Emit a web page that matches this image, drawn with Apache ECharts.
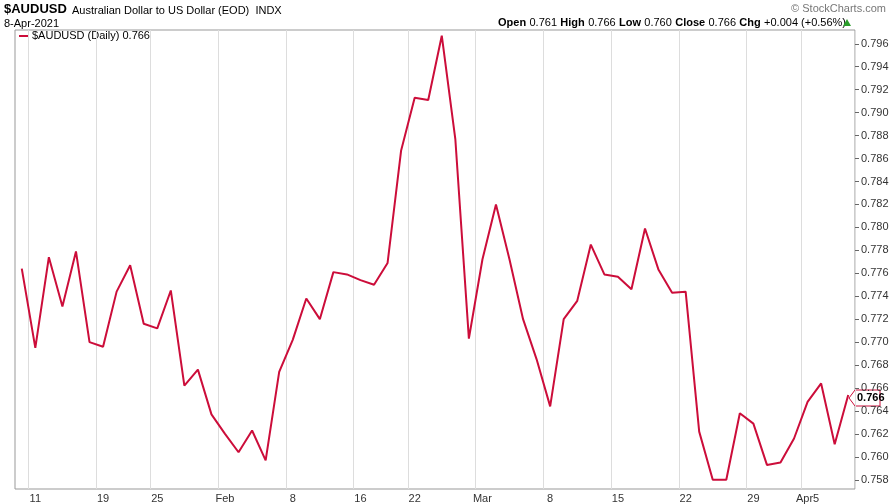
<!DOCTYPE html>
<html><head><meta charset="utf-8">
<script src="https://cdn.jsdelivr.net/npm/echarts@6/dist/echarts.min.js"></script>
<style>body{margin:0;background:#fff}#c{width:896px;height:504px}</style>
</head><body><div id="c"></div>
<script>
const dates = ["Jan 8","Jan 11","Jan 12","Jan 13","Jan 14","Jan 15","Jan 19","Jan 20","Jan 21","Jan 22","Jan 25","Jan 26","Jan 27","Jan 28","Jan 29","Feb 1","Feb 2","Feb 3","Feb 4","Feb 5","Feb 8","Feb 9","Feb 10","Feb 11","Feb 12","Feb 16","Feb 17","Feb 18","Feb 19","Feb 22","Feb 23","Feb 24","Feb 25","Feb 26","Mar 1","Mar 2","Mar 3","Mar 4","Mar 5","Mar 8","Mar 9","Mar 10","Mar 11","Mar 12","Mar 15","Mar 16","Mar 17","Mar 18","Mar 19","Mar 22","Mar 23","Mar 24","Mar 25","Mar 26","Mar 29","Mar 30","Mar 31","Apr 1","Apr 5","Apr 6","Apr 7","Apr 8"];
const closes = [0.7764,0.7695,0.7774,0.7731,0.7779,0.7700,0.7696,0.7744,0.7767,0.7716,0.7712,0.7745,0.7662,0.7676,0.7637,0.7620,0.7604,0.7623,0.7597,0.7674,0.7702,0.7738,0.7720,0.7761,0.7759,0.7754,0.7750,0.7769,0.7867,0.7913,0.7911,0.7967,0.7877,0.7703,0.7772,0.7820,0.7772,0.7720,0.7685,0.7644,0.7720,0.7736,0.7785,0.7759,0.7757,0.7746,0.7799,0.7763,0.7743,0.7744,0.7622,0.7580,0.7580,0.7638,0.7629,0.7593,0.7595,0.7616,0.7648,0.7664,0.7611,0.7654];
const tickDates = ["Jan 11","Jan 19","Jan 25","Feb 1","Feb 8","Feb 16","Feb 22","Mar 1","Mar 8","Mar 15","Mar 22","Mar 29","Apr 5"];
const tickLabels = ["11","19","25","Feb","8","16","22","Mar","8","15","22","29","Apr5"];
const yTicks = [0.758,0.760,0.762,0.764,0.766,0.768,0.770,0.772,0.774,0.776,0.778,0.780,0.782,0.784,0.786,0.788,0.790,0.792,0.794,0.796];
const isTick = (i, v) => tickDates.indexOf(v) >= 0;
const chart = echarts.init(document.getElementById('c'));
const F = 'Liberation Sans, Arial, sans-serif';
chart.setOption({
  animation:false,
  textStyle:{fontFamily:F},
  grid:{left:15,right:41,top:30,bottom:14,show:true,borderColor:'#999',borderWidth:1},
  xAxis:{type:'category',data:dates,boundaryGap:['0.6%','1%'],
    axisLine:{show:false},
    axisTick:{show:false},
    axisLabel:{interval:isTick,formatter:v=>tickLabels[tickDates.indexOf(v)],color:'#333',fontSize:11,margin:4},
    splitLine:{show:true,interval:isTick,lineStyle:{color:'#ddd'}}},
  yAxis:{type:'value',position:'right',min:0.7572,max:0.7972,scale:true,
    axisLine:{show:false},
    axisTick:{show:true,customValues:yTicks,length:4,lineStyle:{color:'#666'}},
    axisLabel:{customValues:yTicks,formatter:v=>v.toFixed(3),color:'#333',fontSize:11,margin:6},
    splitLine:{show:false}},
  series:[{type:'line',data:closes,symbol:'none',lineStyle:{color:'#cc0d3a',width:2}}],
  graphic:[
    {type:'text',left:4,top:3,style:{text:'$AUDUSD',font:'bold 13px '+F,fill:'#000'}},
    {type:'text',left:72,top:5,style:{text:'Australian Dollar to US Dollar (EOD)  INDX',font:'11px '+F,fill:'#000'}},
    {type:'text',left:4,top:18,style:{text:'8-Apr-2021',font:'11px '+F,fill:'#000'}},
    {type:'text',right:10,top:3,style:{text:'© StockCharts.com',font:'11px '+F,fill:'#777'}},
    {type:'text',right:50,top:17,style:{rich:{b:{font:'bold 11px '+F,fill:'#000'},n:{font:'11px '+F,fill:'#000'}},
      text:'{b|Open} {n|0.761} {b|High} {n|0.766} {b|Low} {n|0.760} {b|Close} {n|0.766} {b|Chg} {n|+0.004 (+0.56%)}'}},
    {type:'polygon',shape:{points:[[843,26],[851,26],[847,19]]},style:{fill:'#2a9d2a'}},
    {type:'line',shape:{x1:19,y1:36,x2:29,y2:36},style:{stroke:'#cc0d3a',lineWidth:2}},
    {type:'text',left:32,top:30,style:{text:'$AUDUSD (Daily) 0.766',font:'11px '+F,fill:'#000'}},
    {type:'polygon',shape:{points:[[849,398],[855,390],[880,390],[880,406],[855,406]]},style:{fill:'#fff',stroke:'#cc0d3a',lineWidth:1}},
    {type:'text',left:857,top:392,style:{text:'0.766',font:'bold 11px '+F,fill:'#000'}}
  ]
});
</script></body></html>
